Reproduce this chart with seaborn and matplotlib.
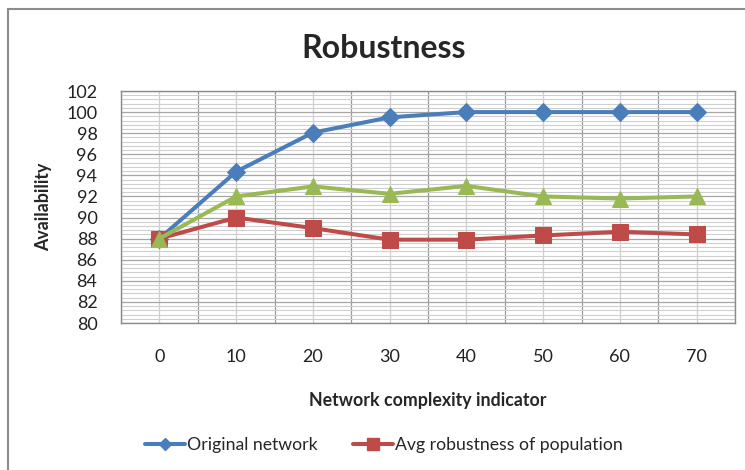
import matplotlib
matplotlib.use("Agg")
import matplotlib.pyplot as plt
import matplotlib.patches as mpatches
from matplotlib.lines import Line2D
from matplotlib.ticker import MultipleLocator
import seaborn as sns
import pandas as pd
import numpy as np

categories = ["0", "10", "20", "30", "40", "50", "60", "70"]
original_network = [88.0, 94.35, 98.05, 99.5, 100.0, 100.0, 100.0, 100.0]
avg_robustness = [88.0, 90.0, 89.0, 87.9, 87.9, 88.3, 88.65, 88.4]
third_series = [88.0, 92.0, 92.95, 92.25, 93.0, 92.0, 91.8, 92.0]
series_names = ["Original network", "Avg robustness of population", "Best robustness"]

sns.set_theme(style="white")
plt.rcParams["font.family"] = ["Lato", "DejaVu Sans"]

df = pd.DataFrame({
    "x": categories * 3,
    "y": original_network + avg_robustness + third_series,
    "series": [series_names[0]] * 8 + [series_names[1]] * 8 + [series_names[2]] * 8,
})

fig = plt.figure(figsize=(7.45, 4.70), dpi=100)
ax = fig.add_axes([121 / 745, 1 - 323 / 470, 614 / 745, 232 / 470])

colors = {series_names[0]: "#4a7ebb", series_names[1]: "#be4b48", series_names[2]: "#98b954"}
markers = {series_names[0]: "D", series_names[1]: "s", series_names[2]: "^"}
msizes = {series_names[0]: 9.5, series_names[1]: 12, series_names[2]: 12}

for name in [series_names[0], series_names[1], series_names[2]]:
    sub = df[df["series"] == name]
    sns.lineplot(data=sub, x="x", y="y", ax=ax, color=colors[name], marker=markers[name],
                 markersize=msizes[name], markeredgecolor=colors[name], linewidth=2.9,
                 sort=False, legend=False, zorder=3)

ax.set_xlim(-0.5, 7.5)
ax.set_ylim(80, 102)
ax.yaxis.set_major_locator(MultipleLocator(2))
ax.yaxis.set_minor_locator(MultipleLocator(0.4))
ax.set_xticks(range(8))
ax.set_xticklabels(categories)
ax.set_xticks(np.arange(-0.5, 8.0, 1.0), minor=True)

ax.grid(False)
ax.grid(True, which="major", axis="y", color="#a6a6a6", linewidth=0.9, zorder=0)
ax.grid(True, which="minor", axis="y", color="#cfcfcf", linewidth=0.8, zorder=0)
ax.grid(True, which="minor", axis="x", color="#9a9a9a", linewidth=0.9, zorder=0)
ax.grid(True, which="major", axis="x", color="#cfcfcf", linewidth=0.9, zorder=0)

for s in ax.spines.values():
    s.set_color("#8a8a8a")
    s.set_linewidth(1.0)

ax.tick_params(axis="both", which="both", length=0)
ax.tick_params(axis="x", pad=19, labelsize=13, colors="#222222")
ax.tick_params(axis="y", pad=17, labelsize=13, colors="#222222")

ax.set_xlabel("Network complexity indicator", fontsize=12.8, fontweight="bold", labelpad=19)
ax.set_ylabel("Availability", fontsize=12.8, fontweight="bold", labelpad=10)

fig.text(384 / 745, 1 - 48 / 470, "Robustness", ha="center", va="center",
         fontsize=23, fontweight="bold")

handles = [
    Line2D([0], [0], color=colors[series_names[0]], marker="D", markersize=6, linewidth=2.9),
    Line2D([0], [0], color=colors[series_names[1]], marker="s", markersize=8.5, linewidth=2.9),
]
fig.legend(handles, series_names[:2], loc="center left", bbox_to_anchor=(145 / 745, 1 - 445 / 470),
           ncol=2, frameon=False, fontsize=12.7, handlelength=2.27, handletextpad=0.12,
           columnspacing=2.0, borderpad=0, borderaxespad=0)

border = mpatches.Rectangle((8 / 745, -0.2), 1.2, 1 - 9 / 470 + 0.2, transform=fig.transFigure,
                            fill=False, edgecolor="#8c8c8c", linewidth=1.5)
fig.patches.append(border)

fig.savefig("out.png", dpi=100)
